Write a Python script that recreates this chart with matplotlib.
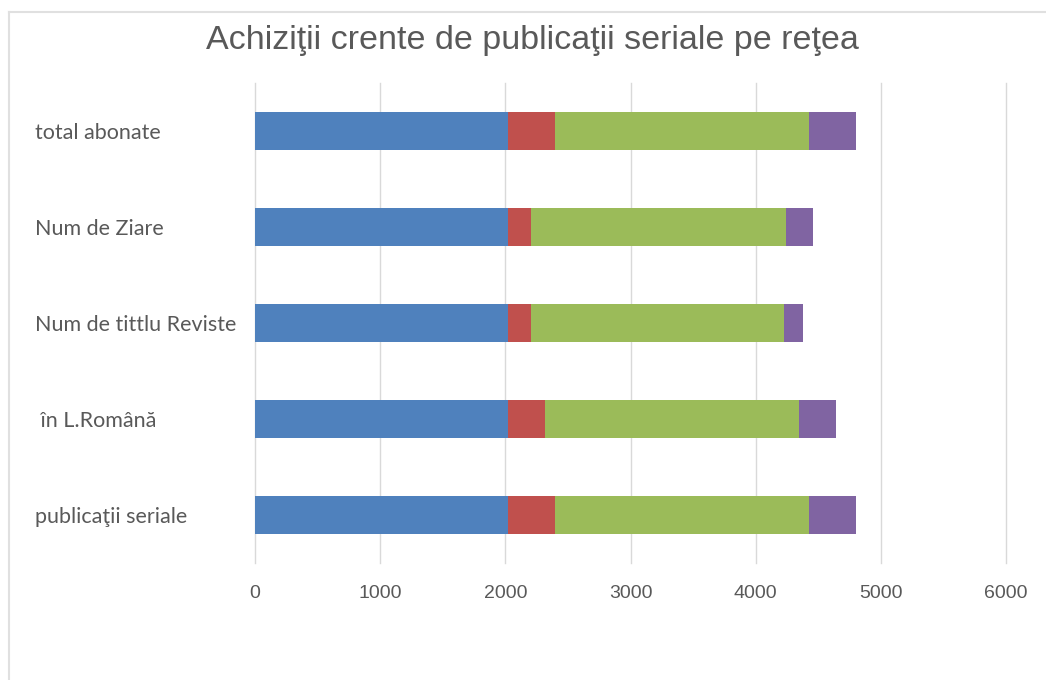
import matplotlib.pyplot as plt
from matplotlib.lines import Line2D

# categories, bottom to top as drawn
categories = ['publicaţii seriale', ' în L.Română', 'Num de tittlu Reviste', 'Num de Ziare', 'total abonate']

# series values
blue = [2020, 2020, 2020, 2020, 2020]
red = [378, 296, 182, 188, 378]
green = [2026, 2031, 2028, 2031, 2026]
purple = [375, 296, 150, 222, 375]

colors = ['#4F81BD', '#C0504D', '#9BBB59', '#8064A2']
xticks = [0, 1000, 2000, 3000, 4000, 5000, 6000]

fig = plt.figure(figsize=(10.46, 6.8), dpi=100)
ax = fig.add_axes([255 / 1046, 1 - 563 / 680, (1006 - 255) / 1046, (563 - 83) / 680])

y = range(len(categories))
left = [0] * len(categories)
for vals, c in zip([blue, red, green, purple], colors):
    ax.barh(y, vals, left=left, height=0.4, color=c, zorder=3)
    left = [l + v for l, v in zip(left, vals)]

ax.set_xlim(0, 6000)
ax.set_ylim(-0.5, 4.5)
ax.set_xticks(xticks)
ax.set_xticklabels([str(t) for t in xticks], fontsize=14, color='#595959', family='Liberation Sans')
ax.set_yticks(list(y))
ax.set_yticklabels(categories, fontsize=15.5, color='#595959', family='Lato', ha='left')
# labels start at x=35px -> pad in points
ax.tick_params(axis='y', length=0, pad=(255 - 35) * 0.72)
ax.tick_params(axis='x', length=0, pad=16)
ax.grid(axis='x', color='#D9D9D9', linewidth=1, zorder=0)
for gl in ax.get_xgridlines():
    gl.set_clip_on(False)
for s in ax.spines.values():
    s.set_visible(False)

fig.text(532 / 1046, 1 - 41 / 680, 'Achiziţii crente de publicaţii seriale pe reţea',
         ha='center', va='center', fontsize=24.5, color='#595959', family='Liberation Sans')

# chart frame lines (top and left)
fig.add_artist(Line2D([8.5 / 1046, 8.5 / 1046], [0, 1 - 11.5 / 680], color='#E0E0E0', linewidth=1.5))
fig.add_artist(Line2D([8.5 / 1046, 1], [1 - 11.5 / 680, 1 - 11.5 / 680], color='#E0E0E0', linewidth=1.5))

fig.savefig('out.png', dpi=100)
